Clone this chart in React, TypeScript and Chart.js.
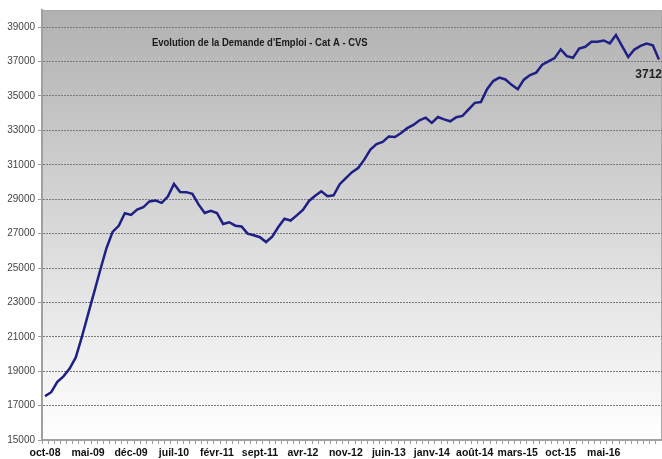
import React, { useEffect, useRef } from "react";
import { Chart, registerables } from "chart.js";

Chart.register(...registerables);

// Categories: monthly, oct-08 .. févr-17
const categories: string[] = [
  "oct-08", "nov-08", "déc-08",
  "janv-09", "févr-09", "mars-09", "avr-09", "mai-09", "juin-09", "juil-09", "août-09", "sept-09", "oct-09", "nov-09", "déc-09",
  "janv-10", "févr-10", "mars-10", "avr-10", "mai-10", "juin-10", "juil-10", "août-10", "sept-10", "oct-10", "nov-10", "déc-10",
  "janv-11", "févr-11", "mars-11", "avr-11", "mai-11", "juin-11", "juil-11", "août-11", "sept-11", "oct-11", "nov-11", "déc-11",
  "janv-12", "févr-12", "mars-12", "avr-12", "mai-12", "juin-12", "juil-12", "août-12", "sept-12", "oct-12", "nov-12", "déc-12",
  "janv-13", "févr-13", "mars-13", "avr-13", "mai-13", "juin-13", "juil-13", "août-13", "sept-13", "oct-13", "nov-13", "déc-13",
  "janv-14", "févr-14", "mars-14", "avr-14", "mai-14", "juin-14", "juil-14", "août-14", "sept-14", "oct-14", "nov-14", "déc-14",
  "janv-15", "févr-15", "mars-15", "avr-15", "mai-15", "juin-15", "juil-15", "août-15", "sept-15", "oct-15", "nov-15", "déc-15",
  "janv-16", "févr-16", "mars-16", "avr-16", "mai-16", "juin-16", "juil-16", "août-16", "sept-16", "oct-16", "nov-16", "déc-16",
  "janv-17", "févr-17",
];

// Demande d'emploi Cat A - CVS
const demandeEmploi: number[] = [
  17550, 17780, 18380,
  18700, 19150, 19800, 21000, 22300, 23600, 24900, 26150, 27100, 27450, 28180, 28090,
  28400, 28530, 28870, 28920, 28790, 29150, 29890, 29420, 29410, 29310, 28700, 28200,
  28330, 28200, 27560, 27660, 27460, 27410, 27000, 26900, 26790, 26510, 26820, 27380,
  27860, 27760, 28060, 28380, 28900, 29200, 29460, 29170, 29230, 29870, 30230, 30570,
  30810, 31300, 31880, 32200, 32330, 32650, 32620, 32850, 33130, 33320, 33590, 33740,
  33440, 33780, 33640, 33530, 33770, 33840, 34220, 34600, 34650, 35400, 35870, 36070,
  35960, 35650, 35390, 35950, 36220, 36360, 36820, 37010, 37200, 37710, 37320, 37220,
  37760, 37860, 38150, 38150, 38230, 38060, 38540, 37900, 37260, 37700, 37910, 38050,
  37950, 37120,
];

const yTickValues: number[] = [15000, 17000, 19000, 21000, 23000, 25000, 27000, 29000, 31000, 33000, 35000, 37000, 39000];
const yMin = 15000;
const yMax = 40000;
const labelEvery = 7;
const chartTitle = "Evolution de la Demande d'Emploi - Cat A - CVS";
const lastLabel = "3712";

const FONT = "'Liberation Sans', Arial, Helvetica, sans-serif";

export default function App() {
  const ref = useRef<HTMLCanvasElement>(null);

  useEffect(() => {
    document.body.style.margin = "0";
    const canvas = ref.current;
    if (!canvas) return;

    const decorPlugin = {
      id: "decor",
      beforeDraw(chart: any) {
        const { ctx, chartArea: a } = chart;
        const g = ctx.createLinearGradient(0, a.top, 0, a.bottom);
        g.addColorStop(0, "#b1b1b1");
        g.addColorStop(1, "#ffffff");
        ctx.save();
        ctx.fillStyle = g;
        ctx.fillRect(a.left, a.top, a.right - a.left, a.bottom - a.top);
        ctx.strokeStyle = "#a8a8a8";
        ctx.lineWidth = 1;
        ctx.strokeRect(a.left + 0.5, a.top + 0.5, a.right - a.left - 1, a.bottom - a.top);
        ctx.restore();
      },
      afterDraw(chart: any) {
        const { ctx, chartArea: a } = chart;
        ctx.save();
        ctx.fillStyle = "#1a1a1a";
        ctx.font = `bold 11px ${FONT}`;
        ctx.textBaseline = "middle";
        ctx.translate(a.left + 110, a.top + 33);
        ctx.scale(0.86, 1);
        ctx.fillText(chartTitle, 0, 0);
        ctx.restore();

        const meta = chart.getDatasetMeta(0);
        const p = meta.data[meta.data.length - 1];
        ctx.save();
        ctx.fillStyle = "#222222";
        ctx.font = `bold 12px ${FONT}`;
        ctx.textAlign = "right";
        ctx.textBaseline = "middle";
        ctx.fillText(lastLabel, chart.width, p.y + 15);
        ctx.restore();
      },
    };

    const chart = new Chart(canvas, {
      type: "line",
      data: {
        labels: categories,
        datasets: [
          {
            data: demandeEmploi,
            borderColor: "#1f1f85",
            borderWidth: 2.5,
            pointRadius: 0,
            tension: 0,
            fill: false,
          },
        ],
      },
      options: {
        responsive: false,
        animation: false,
        layout: { padding: { top: 10, right: 0, bottom: 0, left: 0 } },
        plugins: {
          legend: { display: false },
          tooltip: { enabled: false },
          title: { display: false },
        },
        scales: {
          x: {
            type: "category",
            offset: true,
            grid: {
              offset: true,
              drawOnChartArea: false,
              drawTicks: true,
              tickLength: 4,
              tickColor: "#9a9a9a",
            },
            border: { color: "#a0a0a0", width: 2 },
            ticks: {
              autoSkip: false,
              maxRotation: 0,
              minRotation: 0,
              padding: 3,
              color: "#111111",
              font: { family: FONT, size: 10.5, weight: "bold" },
              callback: (_v: any, i: number) =>
                i % labelEvery === 0 && i < categories.length - labelEvery ? categories[i] : "",
            },
            afterFit: (s: any) => {
              s.height = 19;
            },
          },
          y: {
            min: yMin,
            max: yMax,
            afterBuildTicks: (s: any) => {
              s.ticks = yTickValues.map((v) => ({ value: v }));
            },
            grid: {
              color: "#7a7a7a",
              lineWidth: 1,
              drawTicks: true,
              tickLength: 4,
              tickColor: "#9a9a9a",
            },
            border: { color: "#a0a0a0", width: 2, dash: [2, 1] },
            ticks: {
              padding: 3,
              color: "#444444",
              font: { family: FONT, size: 10 },
              callback: (v: any) => String(v),
            },
            afterFit: (s: any) => {
              s.width = 42;
            },
          },
        },
      },
      plugins: [decorPlugin],
    } as any);

    return () => chart.destroy();
  }, []);

  return (
    <div style={{ width: 662, height: 459 }}>
      <canvas ref={ref} width={662} height={459} />
    </div>
  );
}
